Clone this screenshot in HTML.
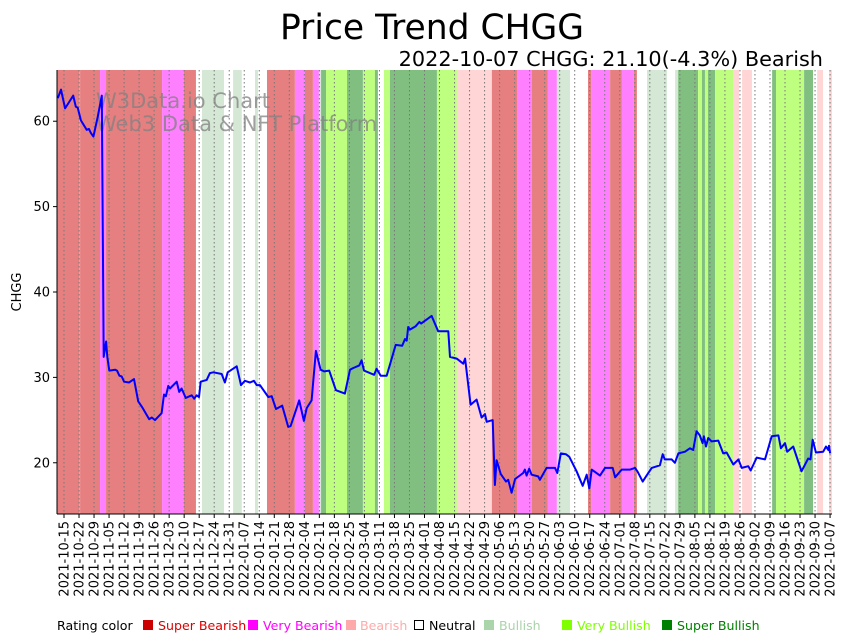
<!DOCTYPE html>
<html><head><meta charset="utf-8"><style>
html,body{margin:0;padding:0;background:#fff;}
svg{display:block;font-family:"DejaVu Sans","Liberation Sans",sans-serif;}
</style></head><body>
<svg id="chart" width="848" height="641" viewBox="0 0 848 641" xmlns="http://www.w3.org/2000/svg">
<text x="432" y="39" font-size="34.5" text-anchor="middle">Price Trend CHGG</text>
<text x="823" y="66" font-size="20.8" text-anchor="end">2022-10-07 CHGG: 21.10(-4.3%) Bearish</text>
<g id="bands"></g>
<g id="grid"></g>
<text x="96" y="108" font-size="21" fill="#808080" fill-opacity="0.75">W3Data.io Chart</text>
<text x="96" y="131" font-size="21" fill="#808080" fill-opacity="0.75">Web3 Data &amp; NFT Platform</text>
<path id="priceLine" fill="none" stroke="#0000ff" stroke-width="2" stroke-linejoin="round"/>
<line x1="57" y1="70" x2="57" y2="514" stroke="#000" stroke-width="1"/>
<line x1="57" y1="514" x2="832" y2="514" stroke="#000" stroke-width="1"/>
<g id="yticks"></g>
<g id="xticks"></g>
<text transform="translate(21,292) rotate(-90)" font-size="13" text-anchor="middle">CHGG</text>
<g font-size="12.6">
<text x="57" y="630">Rating color</text>
<g><rect x="143" y="620" width="10" height="10" fill="#cc0000"/><text x="158" y="630" fill="#dd0000">Super Bearish</text></g>
<g><rect x="248" y="620" width="10" height="10" fill="#ff00ff"/><text x="263" y="630" fill="#ff00ff">Very Bearish</text></g>
<g><rect x="346" y="620" width="10" height="10" fill="#ffaaaa"/><text x="360" y="630" fill="#ffaaaa">Bearish</text></g>
<g><rect x="414.5" y="620.5" width="9" height="9" fill="none" stroke="#000"/><text x="429" y="630" fill="#000">Neutral</text></g>
<g><rect x="484" y="620" width="10" height="10" fill="#aad4aa"/><text x="499" y="630" fill="#aad4aa">Bullish</text></g>
<g><rect x="562" y="620" width="10" height="10" fill="#7fff00"/><text x="577" y="630" fill="#7fff00">Very Bullish</text></g>
<g><rect x="662" y="620" width="10" height="10" fill="#008000"/><text x="677" y="630" fill="#008000">Super Bullish</text></g>
</g>
</svg>
<script>
// days since 2021-10-15
const bandStart=[-3.3,7,7.5,16.8,19.6,45.7,55.9,61.5,64.3,74.6,78.8,82.9,89,90.4,94.6,107.6,112.3,116,118.8,119.8,122.1,131.9,139.3,144.9,146.3,149.1,151.9,173.8,183.1,199.4,211.1,218.1,225.5,229.7,235.8,244.2,245.6,254.5,260,265.6,267,271.7,281,284.8,286.2,295.5,297.3,298.7,300.1,303.4,311.8,314.6,316,320.6,330,331.8,344.9,349.1,351,353.7,356.5];
const bandRating=["SB","VB","SB","VB","SB","VB","SB","N","BU","N","BU","N","BU","N","SB","VB","SB","VB","BU","SBU","VBU","SBU","VBU","SBU","N","VBU","SBU","VBU","B","SB","VB","SB","VB","BU","N","SB","VB","SB","VB","SB","N","BU","N","BU","SBU","VBU","SBU","VBU","SBU","VBU","B","N","B","N","SBU","VBU","SBU","N","B","N","B"];
const bandEnd=357.9;
const priceDays=[-2.9,-1.4,0.5,4.3,5.5,6.4,7.9,10.6,11.6,12.6,13.7,15.7,17.6,18.5,19.6,20.2,21.1,23.8,24.7,25.8,26.9,28.0,30.3,32.6,34.6,36.7,39.7,40.9,42.4,45.5,46.6,47.5,48.6,49.4,52.5,53.7,54.8,56.7,59.5,60.7,61.8,62.9,63.7,66.5,68.0,69.6,73.5,75.0,76.3,80.5,82.5,84.3,86.7,88.5,89.8,91.3,95.2,96.8,98.8,101.7,104.5,105.6,109.6,111.8,113.1,115.4,117.4,119.6,121.2,123.6,126.7,130.9,133.3,134.8,137.6,138.7,139.8,144.5,145.7,147.6,150.4,154.6,157.6,158.9,159.7,160.4,161.2,163.9,165.6,166.4,171.3,174.4,179.1,179.9,183.0,186.1,186.9,189.5,192.3,194.6,196.2,197.0,199.8,200.8,201.6,203.5,206.0,207.0,208.6,210.2,214.0,214.8,215.6,216.8,217.9,221.0,221.8,224.9,228.8,229.9,231.5,233.9,235.5,238.9,241.7,243.6,244.8,245.9,249.8,252.1,255.7,256.8,259.9,263.8,266.1,267.2,269.7,271.5,273.9,277.7,279.0,280.0,283.2,284.7,286.3,289.4,291.7,293.2,294.8,296.3,297.6,298.2,299.2,300.2,301.8,304.9,307.2,308.8,311.9,314.3,315.8,318.9,320.0,322.8,326.7,329.8,332.9,334.1,336.0,337.0,339.8,343.7,346.8,347.9,348.9,350.4,353.8,355.1,356.2,356.5,357];
const prices=[62.7,63.7,61.5,63.0,61.7,61.6,60.1,59.0,59.1,58.6,58.2,60.5,63.0,32.4,34.2,32.4,30.8,30.9,30.8,30.2,30.1,29.5,29.4,29.8,27.2,26.4,25.1,25.3,25.0,25.8,28.0,27.8,29.0,28.7,29.5,28.3,28.7,27.6,27.9,27.5,27.9,27.7,29.5,29.7,30.5,30.6,30.4,29.4,30.6,31.3,29.1,29.6,29.4,29.6,29.1,29.1,27.7,27.8,26.3,26.7,24.2,24.3,27.3,24.9,26.4,27.3,33.1,30.9,30.7,30.8,28.5,28.1,30.9,31.1,31.4,32.0,30.8,30.3,31.0,30.2,30.2,33.8,33.7,34.5,34.3,35.9,35.6,36.0,36.5,36.3,37.2,35.4,35.4,32.4,32.2,31.6,32.2,26.8,27.4,25.3,25.7,24.8,25.0,17.4,20.3,18.7,17.8,18.0,16.5,18.1,18.8,19.2,18.5,19.3,18.6,18.4,18.0,19.4,19.4,18.8,21.1,21.0,20.7,19.0,17.3,18.6,17.0,19.2,18.5,19.4,19.4,18.3,19.2,19.2,19.4,19.0,17.8,18.5,19.4,19.7,21.0,20.4,20.4,20.0,21.1,21.3,21.7,21.5,23.7,23.2,22.3,23.1,21.9,22.9,22.5,22.6,21.1,21.2,19.8,20.4,19.4,19.6,19.1,20.6,20.4,23.1,23.2,21.7,22.3,21.3,21.9,19.0,20.5,20.4,22.7,21.2,21.3,21.9,21.5,22.0,21.1];
const yTicks=[20,30,40,50,60];
const bandColors={SB:"#e67f7f",VB:"#ff80ff",B:"#ffd5d5",N:"#ffffff",BU:"#d5e8d5",VBU:"#bfff80",SBU:"#80bf80"};

const NS="http://www.w3.org/2000/svg";
const X0=57,X1=832,Y0=70,Y1=514,D0=-3.26,D1=357.9,V0=14,V1=66;
function xs(d){return X0+(d-D0)/(D1-D0)*(X1-X0);}
function ys(v){return Y1-(v-V0)/(V1-V0)*(Y1-Y0);}
function mk(tag,attrs,parent){const e=document.createElementNS(NS,tag);for(const k in attrs)e.setAttribute(k,attrs[k]);parent.appendChild(e);return e;}

const bg=document.getElementById('bands');
bandStart.forEach((s,i)=>{
  const e=i+1<bandStart.length?bandStart[i+1]:bandEnd;
  const r=mk('rect',{x:xs(s),y:Y0,width:Math.max(0,xs(e)-xs(s)),height:Y1-Y0,fill:bandColors[bandRating[i]]},bg);
  
  
});

const grid=document.getElementById('grid'),xt=document.getElementById('xticks');
const base=new Date(Date.UTC(2021,9,15));
for(let d=0;d<=357;d+=7){
  const x=xs(d);
  const g=mk('line',{x1:x,y1:Y0,x2:x,y2:Y1,stroke:"#777",'stroke-width':1,'stroke-dasharray':"1.5,2.5"},grid);
  
  
  mk('line',{x1:x,y1:Y1,x2:x,y2:Y1+4,stroke:"#000"},xt);
  const dt=new Date(base.getTime()+d*86400000);
  const lab=dt.toISOString().slice(0,10);
  const t=mk('text',{transform:`translate(${x+4.5},${Y1+7}) rotate(-90)`,'font-size':13,'text-anchor':'end'},xt);
  t.textContent=lab;
  
  
}
const yt=document.getElementById('yticks');
yTicks.forEach(v=>{
  const y=ys(v);
  mk('line',{x1:X0-4,y1:y,x2:X0,y2:y,stroke:"#000"},yt);
  const t=mk('text',{x:X0-7,y:y+4.5,'font-size':13,'text-anchor':'end'},yt);
  t.textContent=v;
  
  
});
document.getElementById('priceLine').setAttribute('d',priceDays.map((d,i)=>(i?'L':'M')+xs(d).toFixed(1)+','+ys(prices[i]).toFixed(1)).join(''));
</script>
</body></html>
